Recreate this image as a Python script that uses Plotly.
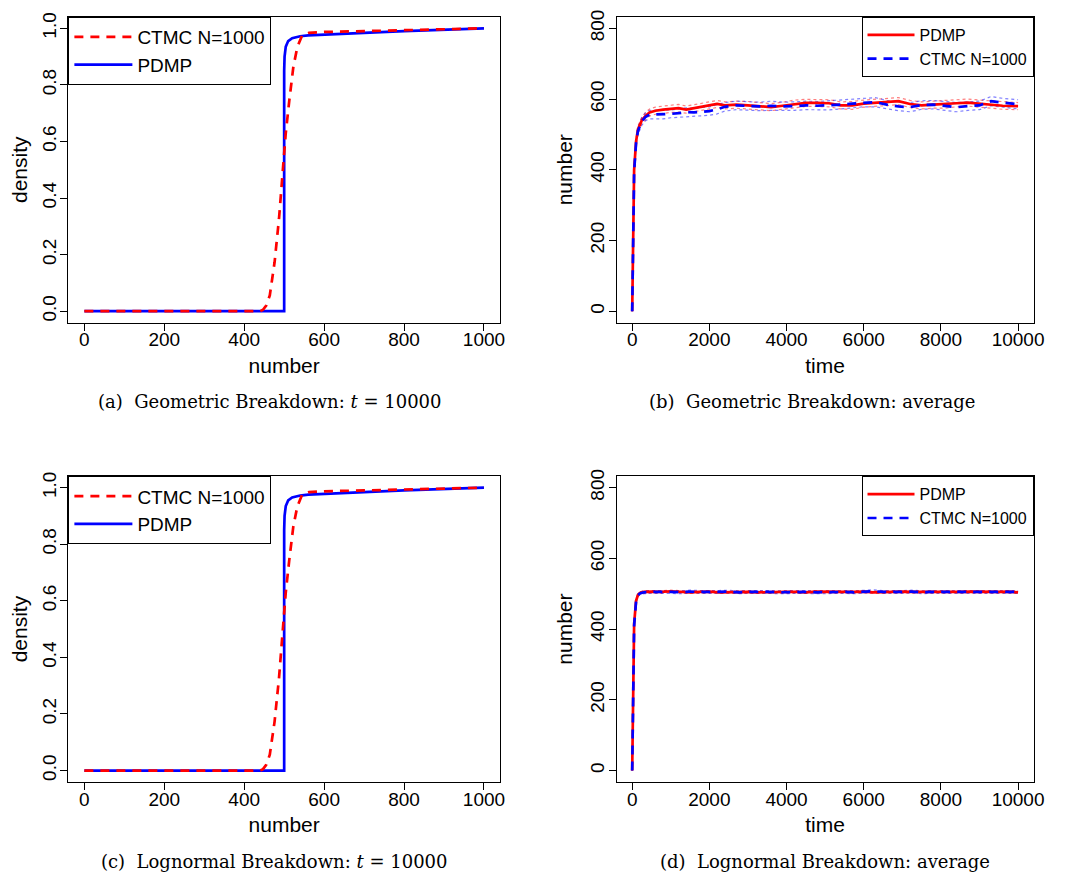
import plotly.graph_objects as go

# ---------------- data ----------------
# (a)/(c) cumulative distribution at t = 10000
ctmc_cdf_x = [0, 440, 447, 455, 464, 476, 487, 495, 504, 513, 523, 533, 545, 562, 600, 700, 800, 900, 1000]
ctmc_cdf_y = [0.0, 0.0, 0.005, 0.02, 0.056, 0.173, 0.326, 0.466, 0.63, 0.747, 0.864, 0.934, 0.975, 0.984, 0.987, 0.99, 0.994, 0.997, 1.0]
pdmp_cdf_x = [0, 499, 500, 500, 501, 504, 510, 520, 540, 560, 600, 700, 800, 900, 1000]
pdmp_cdf_y = [0.0, 0.0, 0.0, 0.85, 0.9, 0.935, 0.955, 0.965, 0.972, 0.975, 0.978, 0.984, 0.99, 0.994, 1.0]

ctmc_cdf_x_c = ctmc_cdf_x
ctmc_cdf_y_c = ctmc_cdf_y
pdmp_cdf_x_c = pdmp_cdf_x
pdmp_cdf_y_c = pdmp_cdf_y

# (b) geometric breakdown: average over time
time_b = [0, 25, 50, 100, 150, 250, 350, 450, 600, 800, 1000, 1200, 1400, 1600, 1800,
          2000, 2200, 2400, 2700, 3000, 3300, 3600, 3900, 4200, 4500, 4800, 5100, 5400,
          5700, 6000, 6300, 6600, 6900, 7200, 7500, 7800, 8100, 8400, 8700, 9000, 9300,
          9600, 10000]
pdmp_b = [0, 250, 400, 480, 515, 540, 553, 562, 567, 570, 572, 574, 570, 574, 579,
          583, 586, 582, 584, 582, 579, 577, 581, 586, 589, 589, 588, 582,
          582, 587, 589, 592, 594, 586, 582, 584, 585, 588, 590, 587, 584,
          581, 580]
ctmc_b = [0, 245, 395, 475, 510, 537, 550, 556, 556, 556, 558, 560, 563, 562, 564,
          566, 571, 578, 582, 580, 579, 581, 579, 580, 582, 581, 582, 584,
          587, 590, 591, 584, 579, 577, 583, 584, 580, 577, 580, 582, 594,
          590, 585]
pdmp_hw_b = [0, 4, 6, 8, 9, 9, 10, 10, 10, 10, 10, 11, 10, 10, 10,
             11, 10, 10, 10, 11, 10, 10, 10, 11, 10, 10, 10, 10,
             11, 10, 10, 11, 10, 10, 10, 10, 11, 10, 10, 10, 11,
             10, 10]
ctmc_hw_b = [0, 5, 7, 9, 10, 11, 11, 12, 12, 12, 11, 12, 12, 12, 12,
             12, 13, 12, 12, 12, 12, 13, 12, 12, 12, 12, 13, 12,
             12, 12, 13, 12, 12, 13, 12, 12, 12, 13, 12, 12, 13,
             12, 13]

# (d) lognormal breakdown: average over time
time_d = [0, 25, 50, 100, 150, 200, 300, 500, 750, 1000, 1250, 1500, 1750, 2000, 2250,
          2500, 2750, 3000, 3250, 3500, 3750, 4000, 4250, 4500, 4750, 5000, 5250, 5500,
          5750, 6000, 6250, 6500, 6750, 7000, 7250, 7500, 7750, 8000, 8250, 8500, 8750,
          9000, 9250, 9500, 9750, 10000]
pdmp_d = [0, 270, 415, 480, 497, 502, 505, 506, 505, 507, 505, 504, 505, 506, 504,
          505, 506, 505, 504, 505, 506, 505, 505, 504, 506, 505, 504, 505,
          505, 506, 504, 505, 505, 506, 505, 504, 505, 505, 504, 505, 506,
          505, 504, 505, 506, 504]
ctmc_d = [0, 265, 410, 478, 496, 501, 504, 505, 506, 505, 504, 506, 505, 504, 505,
          506, 504, 505, 506, 505, 504, 505, 506, 505, 504, 505, 506, 505,
          504, 505, 507, 505, 504, 505, 506, 504, 505, 505, 506, 505, 504,
          505, 506, 505, 504, 505]
pdmp_hw_d = [0, 3, 3, 3, 3, 3, 3, 3, 3, 3, 3, 3, 3, 3, 3,
             3, 3, 3, 3, 3, 3, 3, 3, 3, 3, 3, 3, 3,
             3, 3, 3, 3, 3, 3, 3, 3, 3, 3, 3, 3, 3,
             3, 3, 3, 3, 3]
ctmc_hw_d = [0, 4, 4, 4, 4, 4, 4, 4, 4, 4, 4, 4, 4, 4, 4,
             4, 4, 4, 4, 4, 4, 4, 4, 4, 4, 4, 4, 4,
             4, 4, 4, 4, 4, 4, 4, 4, 4, 4, 4, 4, 4,
             4, 4, 4, 4, 4]

x_ticks_cdf = [0, 200, 400, 600, 800, 1000]
y_ticks_cdf = [0.0, 0.2, 0.4, 0.6, 0.8, 1.0]
x_ticks_time = [0, 2000, 4000, 6000, 8000, 10000]
x_ticktext_time = ["0", "2000", "4000", "6000", "8000", "10000"]
y_ticks_num = [0, 200, 400, 600, 800]

captions = [
    "(a)  Geometric Breakdown: <i>t</i> = 10000",
    "(b)  Geometric Breakdown: average",
    "(c)  Lognormal Breakdown: <i>t</i> = 10000",
    "(d)  Lognormal Breakdown: average",
]

# ---------------- layout helpers ----------------
W, H = 1086, 880
OFF = 8  # default page margin of the html body
RED = "#ff0000"
BLUE = "#0000ff"
SANS = "Liberation Sans, Arial, Helvetica, sans-serif"
SERIF = "DejaVu Serif, serif"

def fx(p):
    return (p - OFF) / W

def fy(p):
    return 1 - (p - OFF) / H

left_dom = [fx(69), fx(505)]
right_dom = [fx(623), fx(1044)]
top_dom = [fy(318), fy(10)]
bot_dom = [fy(781), fy(473)]

fig = go.Figure()

def cdf_panel(xa, ya, px, py, cx, cy, legend):
    fig.add_trace(go.Scatter(x=px, y=py, mode="lines", name="PDMP",
                             line=dict(color=BLUE, width=2.7), xaxis=xa, yaxis=ya,
                             legend=legend, legendrank=2))
    fig.add_trace(go.Scatter(x=cx, y=cy, mode="lines", name="CTMC N=1000",
                             line=dict(color=RED, width=2.7, dash="9px,7px"),
                             xaxis=xa, yaxis=ya, legend=legend, legendrank=1))

def avg_panel(xa, ya, t, pm, phw, cm, chw, legend):
    p_lo = [m - h for m, h in zip(pm, phw)]
    p_hi = [m + h for m, h in zip(pm, phw)]
    c_lo = [m - h for m, h in zip(cm, chw)]
    c_hi = [m + h for m, h in zip(cm, chw)]
    for band in (p_lo, p_hi):
        fig.add_trace(go.Scatter(x=t, y=band, mode="lines", showlegend=False,
                                 line=dict(color="rgba(255,0,0,0.5)", width=1.2, dash="dot"),
                                 xaxis=xa, yaxis=ya, hoverinfo="skip"))
    for band in (c_lo, c_hi):
        fig.add_trace(go.Scatter(x=t, y=band, mode="lines", showlegend=False,
                                 line=dict(color="rgba(0,0,255,0.5)", width=1.2, dash="dot"),
                                 xaxis=xa, yaxis=ya, hoverinfo="skip"))
    fig.add_trace(go.Scatter(x=t, y=pm, mode="lines", name="PDMP",
                             line=dict(color=RED, width=2.7), xaxis=xa, yaxis=ya,
                             legend=legend, legendrank=1))
    fig.add_trace(go.Scatter(x=t, y=cm, mode="lines", name="CTMC N=1000",
                             line=dict(color=BLUE, width=2.7, dash="9px,7px"),
                             xaxis=xa, yaxis=ya, legend=legend, legendrank=2))

cdf_panel("x", "y", pdmp_cdf_x, pdmp_cdf_y, ctmc_cdf_x, ctmc_cdf_y, "legend")
avg_panel("x2", "y2", time_b, pdmp_b, pdmp_hw_b, ctmc_b, ctmc_hw_b, "legend2")
cdf_panel("x3", "y3", pdmp_cdf_x_c, pdmp_cdf_y_c, ctmc_cdf_x_c, ctmc_cdf_y_c, "legend3")
avg_panel("x4", "y4", time_d, pdmp_d, pdmp_hw_d, ctmc_d, ctmc_hw_d, "legend4")

def axis(domain, anchor, rng, tickvals, title, is_y, fmt=None, ticktext=None):
    d = dict(domain=domain, anchor=anchor, range=rng, tickvals=tickvals,
             showline=True, linecolor="black", linewidth=1, mirror=True,
             ticks="outside", ticklen=7, tickwidth=1, tickcolor="black",
             showgrid=False, zeroline=False,
             tickfont=dict(family=SANS, size=19, color="black"),
             title=dict(text=title, font=dict(family=SANS, size=21, color="black"),
                        standoff=8))
    if fmt:
        d["tickformat"] = fmt
    if ticktext:
        d["ticktext"] = ticktext
    if is_y:
        d["tickangle"] = -90
        d["ticklabelstandoff"] = -3
    else:
        d["ticklabelstandoff"] = -7
    return d

fig.update_layout(
    width=W, height=H,
    margin=dict(l=0, r=0, t=0, b=0),
    paper_bgcolor="white", plot_bgcolor="white",
    showlegend=True,
    xaxis=axis(left_dom, "y", [-40, 1040], x_ticks_cdf, "number", False),
    yaxis=axis(top_dom, "x", [-0.04, 1.04], y_ticks_cdf, "density", True, ".1f"),
    xaxis2=axis(right_dom, "y2", [-400, 10400], x_ticks_time, "time", False,
                ticktext=x_ticktext_time),
    yaxis2=axis(top_dom, "x2", [-32, 832], y_ticks_num, "number", True),
    xaxis3=axis(left_dom, "y3", [-40, 1040], x_ticks_cdf, "number", False),
    yaxis3=axis(bot_dom, "x3", [-0.04, 1.04], y_ticks_cdf, "density", True, ".1f"),
    xaxis4=axis(right_dom, "y4", [-400, 10400], x_ticks_time, "time", False,
                ticktext=x_ticktext_time),
    yaxis4=axis(bot_dom, "x4", [-32, 832], y_ticks_num, "number", True),
)

leg_left = dict(bgcolor="white", bordercolor="black", borderwidth=1,
                font=dict(family=SANS, size=19, color="black"),
                traceorder="normal", itemwidth=58)
leg_right = dict(bgcolor="white", bordercolor="black", borderwidth=1,
                 font=dict(family=SANS, size=16, color="black"),
                 traceorder="normal", itemwidth=47)
fig.update_layout(
    legend=dict(x=fx(69), y=fy(10), xanchor="left", yanchor="top", **leg_left),
    legend2=dict(x=fx(1044), y=fy(10), xanchor="right", yanchor="top", **leg_right),
    legend3=dict(x=fx(69), y=fy(473), xanchor="left", yanchor="top", **leg_left),
    legend4=dict(x=fx(1044), y=fy(473), xanchor="right", yanchor="top", **leg_right),
)

cap_pos = [(273, 398), (820, 398), (277, 861), (833, 861)]
for text, (cx, cy) in zip(captions, cap_pos):
    fig.add_annotation(text=text, x=fx(cx), y=fy(cy), xref="paper", yref="paper",
                       showarrow=False, xanchor="center", yanchor="middle",
                       font=dict(family=SERIF, size=18, color="black"))

fig.write_html("out.html", config={"displayModeBar": False})
